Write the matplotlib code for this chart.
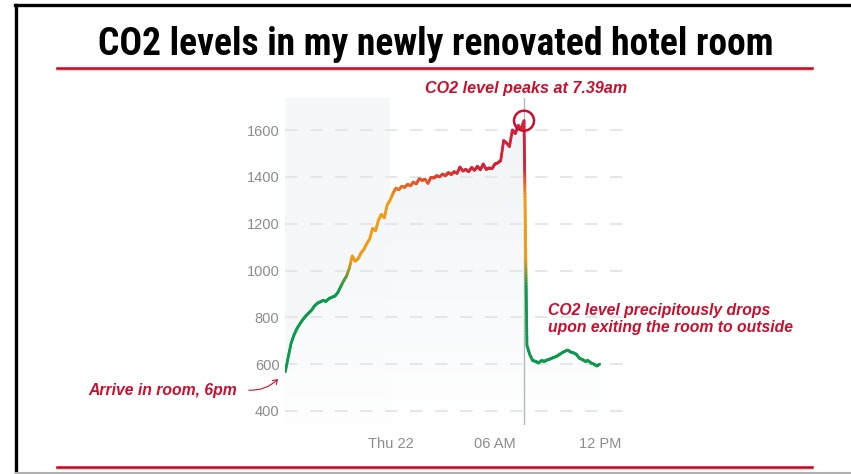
import matplotlib
matplotlib.use("Agg")
import matplotlib.pyplot as plt
import matplotlib.dates as mdates
from matplotlib.collections import LineCollection
from matplotlib.colors import LinearSegmentedColormap, Normalize
from matplotlib.lines import Line2D
from matplotlib.patches import Ellipse, FancyArrowPatch
import numpy as np
import pandas as pd

# readings every 10 minutes, 17:59 Wed -> 11:59 Thu (ppm)
start_time = "2021-07-21 17:59"
co2_ppm = [
    567, 630, 690, 725, 752, 772, 790, 805, 818, 830,
    848, 860, 866, 872, 868, 880, 886, 890, 905, 930,
    955, 975, 1010, 1062, 1040, 1050, 1075, 1090, 1115, 1135,
    1180, 1170, 1215, 1240, 1225, 1280, 1300, 1330, 1352, 1345,
    1360, 1355, 1368, 1362, 1378, 1370, 1392, 1385, 1390, 1372,
    1398, 1395, 1405, 1400, 1412, 1405, 1418, 1410, 1422, 1415,
    1442, 1425, 1432, 1422, 1440, 1428, 1445, 1430, 1455, 1432,
    1438, 1435, 1455, 1460, 1470, 1555, 1545, 1530, 1600, 1585,
    1620, 1605, 1640, 680, 640, 615, 612, 605, 615, 612,
    618, 622, 628, 632, 640, 648, 655, 660, 652, 648,
    642, 625, 620, 612, 615, 605, 600, 592, 600,
]
y_ticks = [400, 600, 800, 1000, 1200, 1400, 1600]
x_ticks = ["2021-07-22 00:00", "2021-07-22 06:00", "2021-07-22 12:00"]
x_tick_labels = ["Thu 22", "06 AM", "12 PM"]
peak_time = "2021-07-22 07:39"

RED = "#c8102e"
GREY = "#8c8c8c"
Y0, Y1 = 340, 1737

times = pd.date_range(start_time, periods=len(co2_ppm), freq="10min")
t = mdates.date2num(times.to_pydatetime())
v = np.array(co2_ppm, dtype=float)

fig = plt.figure(figsize=(8.51, 4.74), dpi=100)
ax = fig.add_axes([285 / 851, 49 / 474, 345 / 851, 327 / 474])
x0 = mdates.datestr2num("2021-07-21 17:58")
x1 = mdates.datestr2num("2021-07-22 13:43")

# night band and fading area under the curve
ax.axvspan(x0, mdates.datestr2num(x_ticks[0]), color="#f6f7f9", zorder=0, lw=0)
area = ax.fill_between(t, v, Y0, color="none", lw=0, zorder=1)
fade = LinearSegmentedColormap.from_list("fade", ["#ffffff", "#eef3f6"])
grad = ax.imshow(np.linspace(0, 1, 100).reshape(-1, 1), cmap=fade, aspect="auto",
                 extent=[x0, x1, Y0, 1650], origin="lower", zorder=1, alpha=0.9)
grad.set_clip_path(area.get_paths()[0], transform=ax.transData)

for yt in y_ticks:
    ax.axhline(yt, color="#e6e7e9", lw=1.5, dashes=(6, 6), zorder=2)

# colour the line by value (split each segment so the drop fades)
cmap = LinearSegmentedColormap.from_list("co2", [
    (0.0, "#0e9a4e"), (0.40, "#0e9a4e"), (0.50, "#f29b13"),
    (0.70, "#f29b13"), (0.80, "#d3213a"), (1.0, "#d3213a")])
norm = Normalize(400, 1700)
segs, vals = [], []
for i in range(len(t) - 1):
    n = 80 if abs(v[i + 1] - v[i]) > 200 else 6
    f = np.linspace(0, 1, n + 1)
    xs = t[i] + (t[i + 1] - t[i]) * f
    ys = v[i] + (v[i + 1] - v[i]) * f
    for j in range(n):
        segs.append([(xs[j], ys[j]), (xs[j + 1], ys[j + 1])])
        vals.append((ys[j] + ys[j + 1]) / 2)
lc = LineCollection(segs, cmap=cmap, norm=norm, linewidths=2.0, capstyle="round", zorder=4)
lc.set_array(np.array(vals))
ax.add_collection(lc)

pk = mdates.datestr2num(peak_time)
ax.axvline(pk, color="#b4b8be", lw=1, zorder=3)

ax.set_xlim(x0, x1)
ax.set_ylim(Y0, Y1)
ax.set_yticks(y_ticks)
ax.set_xticks([mdates.datestr2num(s) for s in x_ticks])
ax.set_xticklabels(x_tick_labels)
ax.tick_params(length=0, colors=GREY, labelsize=10.5)
ax.tick_params(axis="y", pad=4)
ax.tick_params(axis="x", pad=9)
for lab in ax.get_xticklabels() + ax.get_yticklabels():
    lab.set_family("Liberation Sans")
for s in ax.spines.values():
    s.set_visible(False)

# circle round the peak
ax.add_patch(Ellipse((pk, 1640), width=(20 / 345) * (x1 - x0),
                     height=(20 / 327) * (Y1 - Y0), fill=False, ec=RED, lw=1.8, zorder=5))

# frame and rules
fig.add_artist(Line2D([15 / 851, 1], [1 - 5 / 474] * 2, color="black", lw=2.4, transform=fig.transFigure))
fig.add_artist(Line2D([16 / 851] * 2, [0, 1 - 5 / 474], color="black", lw=2.4, transform=fig.transFigure))
fig.add_artist(Line2D([16 / 851, 1], [1.5 / 474] * 2, color="#b0b0b0", lw=1.5, transform=fig.transFigure))
for yy in (68, 467):
    fig.add_artist(Line2D([57 / 851, 812 / 851], [1 - (yy + 1.5) / 474] * 2, color="#d6d6d6", lw=1.5,
                          transform=fig.transFigure))
    fig.add_artist(Line2D([57 / 851, 812 / 851], [1 - yy / 474] * 2, color="#d0021b", lw=1.8,
                          transform=fig.transFigure))

fig.text(436 / 851, 1 - 55 / 474, "CO2 levels in my newly renovated hotel room",
         ha="center", va="baseline", fontsize=27, fontweight="bold", fontstretch="condensed",
         family=["Roboto Condensed", "Open Sans Condensed", "DejaVu Sans"], color="black")

ann = dict(color=RED, fontsize=11.3, fontweight="bold", style="italic", family="Liberation Sans")
fig.text(526 / 851, 1 - 89 / 474, "CO2 level peaks at 7.39am", ha="center", va="center",
         **dict(ann, fontsize=11.6))
fig.text(548 / 851, 1 - 319 / 474, "CO2 level precipitously drops\nupon exiting the room to outside",
         ha="left", va="center", linespacing=1.2, **ann)
fig.text(237 / 851, 1 - 391 / 474, "Arrive in room, 6pm", ha="right", va="center", **ann)
fig.add_artist(FancyArrowPatch(
    (246 / 851, 1 - 390 / 474), (280 / 851, 1 - 377 / 474), transform=fig.transFigure,
    arrowstyle="->,head_length=3,head_width=2", connectionstyle="arc3,rad=0.25",
    color=RED, lw=0.8))

fig.savefig("out.png", dpi=100)
